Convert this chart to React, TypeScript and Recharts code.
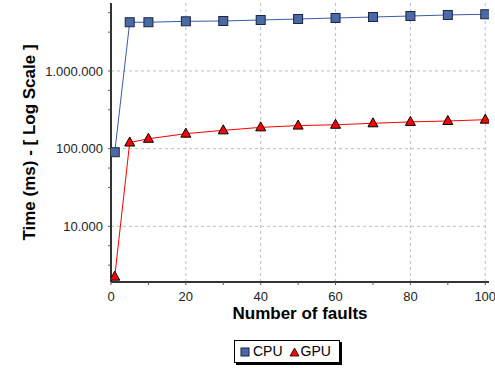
import React from "react";
import {
    LineChart,
    Line,
    XAxis,
    YAxis,
    CartesianGrid,
    Legend,
    Label,
} from "recharts";

const faults = [1, 5, 10, 20, 30, 40, 50, 60, 70, 80, 90, 100];
const cpuTimes = [90000, 4240000, 4240000, 4360000, 4400000, 4530000, 4670000, 4810000, 4950000, 5100000, 5260000, 5370000];
const gpuTimes = [2250, 120000, 134000, 156000, 172000, 188000, 198000, 203000, 212000, 221000, 227000, 236000];

const xTicks = [0, 10, 20, 30, 40, 50, 60, 70, 80, 90, 100];
const xLabelTicks = [0, 20, 40, 60, 80, 100];
const yMajorTicks = [10000, 100000, 1000000];
const yAllTicks = [
    3162, 5623, 10000, 31623, 56234, 100000, 316228, 562341, 1000000, 3162278, 5623413,
];

const data = faults.map((f, i) => ({ faults: f, cpu: cpuTimes[i], gpu: gpuTimes[i] }));

const FONT = "'Liberation Sans', Arial, Helvetica, sans-serif";

const fmtThousands = (v: number) =>
    yMajorTicks.includes(v) ? String(v).replace(/\B(?=(\d{3})+(?!\d))/g, ".") : "";

const SquareDot = (props: any) => {
    const { cx, cy } = props;
    if (cx == null || cy == null) return null;
    return (
        <rect x={cx - 4.5} y={cy - 4.5} width={9} height={9} fill="#4a69a6" stroke="#1b2540" strokeWidth={1} />
    );
};

const TriangleDot = (props: any) => {
    const { cx, cy } = props;
    if (cx == null || cy == null) return null;
    return (
        <polygon
            points={`${cx},${cy - 5.5} ${cx + 5},${cy + 3.5} ${cx - 5},${cy + 3.5}`}
            fill="#ff0000"
            stroke="#000"
            strokeWidth={1}
        />
    );
};

const LegendBox = () => (
    <div
        style={{
            display: "flex",
            alignItems: "center",
            border: "1px solid #000",
            boxShadow: "2px 2px 0 #000",
            background: "#fff",
            padding: "2px 8px 2px 5px",
            fontFamily: FONT,
            fontSize: 14,
            color: "#000",
            lineHeight: "17px",
            width: "fit-content",
        }}
    >
        <svg width={10} height={10} style={{ marginRight: 3 }}>
            <rect x={1} y={1} width={8} height={8} fill="#4a69a6" stroke="#1b2540" strokeWidth={1} />
        </svg>
        <span style={{ marginRight: 6 }}>CPU</span>
        <svg width={11} height={10} style={{ marginRight: 1 }}>
            <polygon points="5.5,1 10,9 1,9" fill="#ff0000" stroke="#000" strokeWidth={0.8} />
        </svg>
        <span>GPU</span>
    </div>
);

export default function App() {
    return (
        <div style={{ position: "absolute", left: 0, top: 0, width: 495, height: 368, background: "#fff" }}>
            <LineChart
                width={495}
                height={368}
                data={data}
                margin={{ top: 3, right: 6, left: 0, bottom: 38 }}
            >
                <CartesianGrid
                    stroke="#bdbdbd"
                    strokeDasharray="3 3"
                    horizontalValues={yMajorTicks}
                    verticalValues={[20, 40, 60, 80, 100]}
                />
                <XAxis
                    dataKey="faults"
                    type="number"
                    domain={[0, 101]}
                    ticks={xTicks}
                    tickFormatter={(v: number) => (xLabelTicks.includes(v) ? String(v) : "")}
                    tick={{ fontSize: 13, fill: "#222", fontFamily: FONT }}
                    tickSize={3}
                    tickMargin={7}
                    tickLine={{ stroke: "#555" }}
                    axisLine={{ stroke: "#333", strokeWidth: 2 }}
                    height={48}
                    interval={0}
                    allowDataOverflow
                >
                    <Label
                        content={(p: any) => {
                            const vb = p.viewBox;
                            return (
                                <text
                                    x={vb.x + vb.width / 2}
                                    y={319}
                                    textAnchor="middle"
                                    fontFamily={FONT}
                                    fontWeight="bold"
                                    fontSize={17}
                                    fill="#000"
                                >
                                    Number of faults
                                </text>
                            );
                        }}
                    />
                </XAxis>
                <XAxis
                    xAxisId="top"
                    orientation="top"
                    type="number"
                    domain={[0, 1]}
                    height={0}
                    tick={false}
                    tickLine={false}
                    axisLine={{ stroke: "#444", strokeWidth: 1.5 }}
                />
                <YAxis
                    scale="log"
                    type="number"
                    domain={[1920, 7500000]}
                    ticks={yAllTicks}
                    tickFormatter={fmtThousands}
                    tick={{ fontSize: 13, fill: "#222", fontFamily: FONT }}
                    tickSize={3}
                    tickMargin={5}
                    tickLine={{ stroke: "#555" }}
                    axisLine={{ stroke: "#333", strokeWidth: 2 }}
                    width={111}
                    interval={0}
                    allowDataOverflow
                >
                    <Label
                        content={(p: any) => {
                            const vb = p.viewBox;
                            const cx = 29;
                            const cy = vb.y + vb.height / 2;
                            return (
                                <text
                                    x={cx}
                                    y={cy}
                                    transform={`rotate(-90 ${cx} ${cy})`}
                                    textAnchor="middle"
                                    dominantBaseline="central"
                                    fontFamily={FONT}
                                    fontWeight="bold"
                                    fontSize={17}
                                    fill="#000"
                                >
                                    Time (ms) - [ Log Scale ]
                                </text>
                            );
                        }}
                    />
                </YAxis>
                <YAxis
                    yAxisId="right"
                    orientation="right"
                    type="number"
                    domain={[0, 1]}
                    width={0}
                    tick={false}
                    tickLine={false}
                    axisLine={{ stroke: "#666", strokeWidth: 2 }}
                />
                <Legend
                    verticalAlign="middle"
                    layout="horizontal"
                    content={() => <LegendBox />}
                    wrapperStyle={{ left: 234, top: 340, width: 120, height: 24 }}
                />
                <Line
                    type="linear"
                    dataKey="cpu"
                    name="CPU"
                    stroke="#3b5ba5"
                    strokeWidth={1}
                    dot={<SquareDot />}
                    activeDot={false}
                    isAnimationActive={false}
                />
                <Line
                    type="linear"
                    dataKey="gpu"
                    name="GPU"
                    stroke="#ff0000"
                    strokeWidth={1}
                    dot={<TriangleDot />}
                    activeDot={false}
                    isAnimationActive={false}
                />
            </LineChart>
        </div>
    );
}
